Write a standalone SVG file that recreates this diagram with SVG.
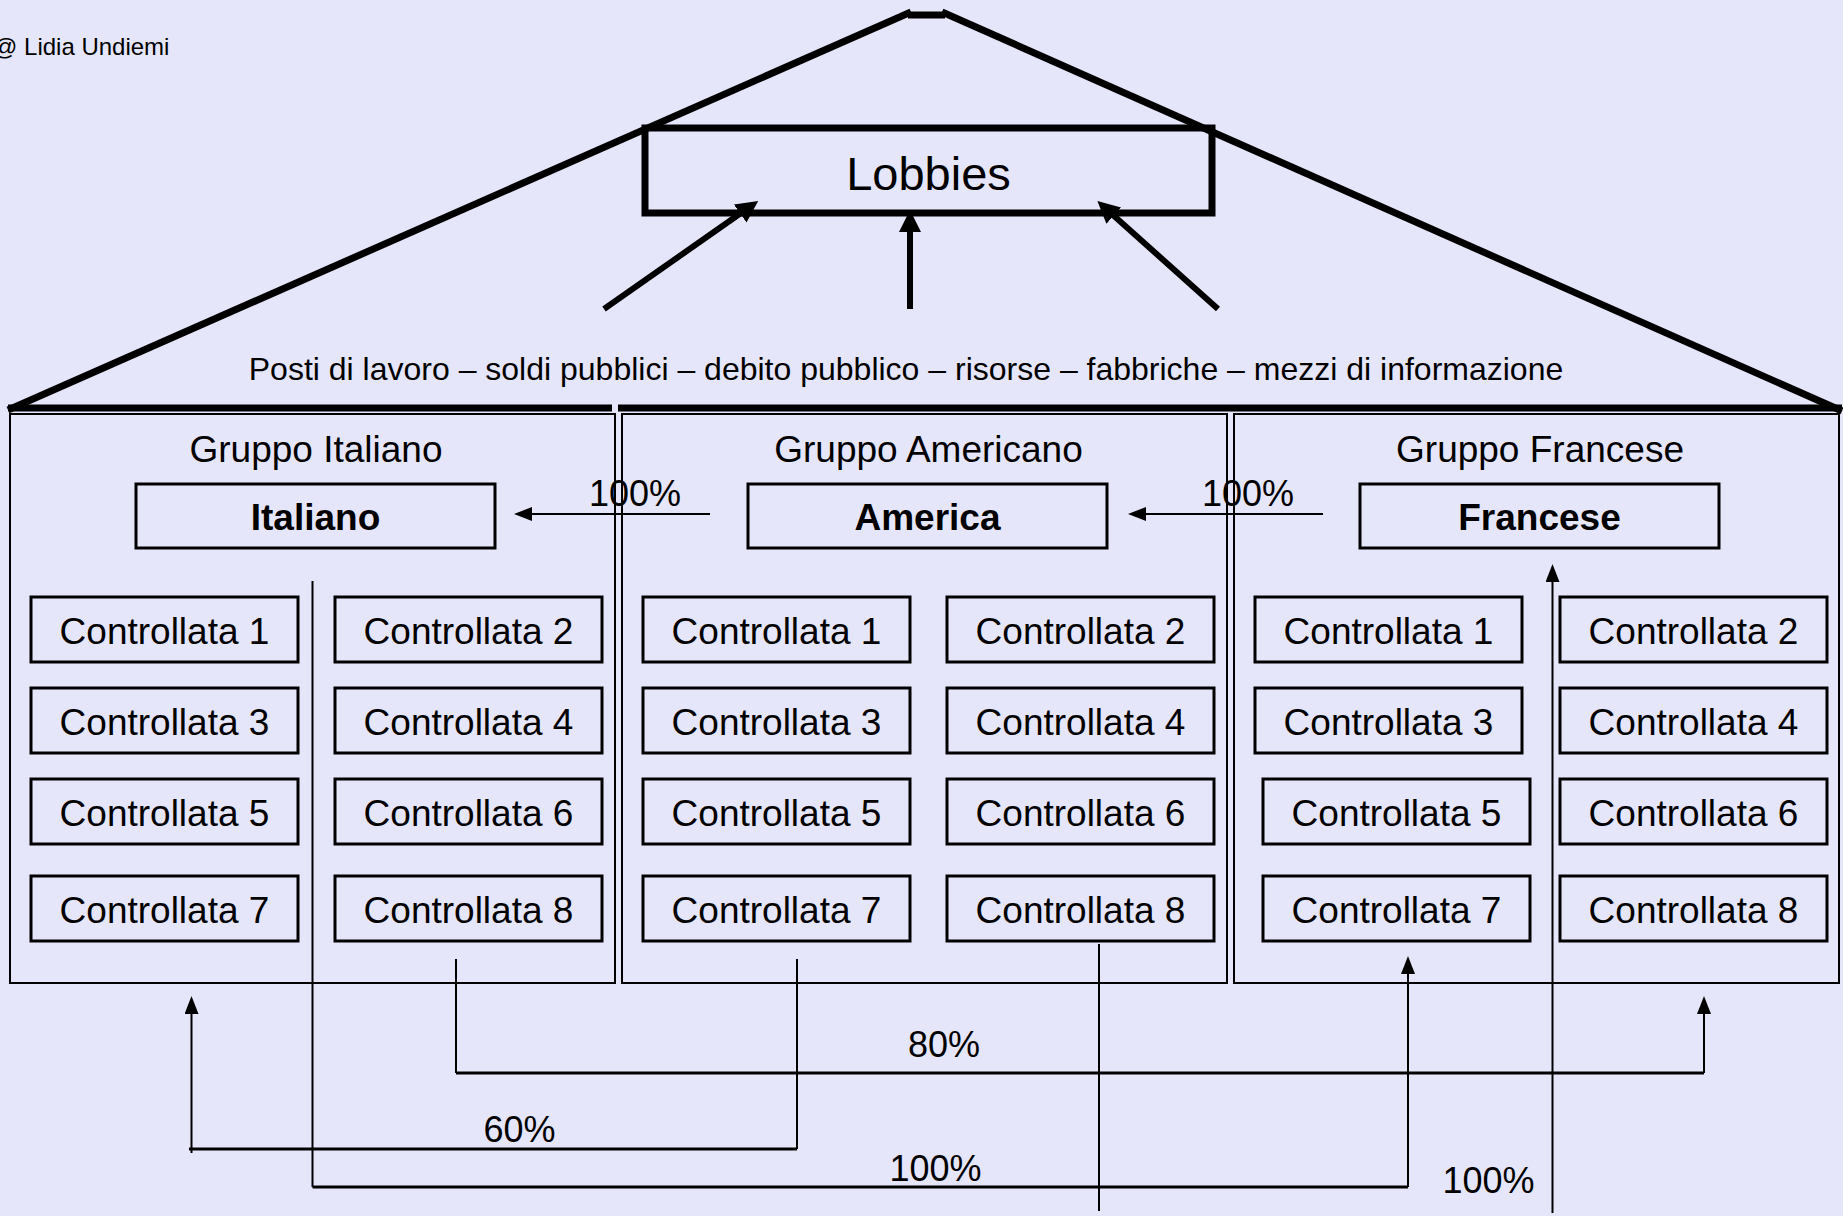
<svg xmlns="http://www.w3.org/2000/svg" width="1843" height="1216" viewBox="0 0 1843 1216">
<style>
text{font-family:"Liberation Sans",Arial,sans-serif;fill:#000}
.c{text-anchor:middle}
.box{fill:none;stroke:#000;stroke-width:3}
.panel{fill:none;stroke:#000;stroke-width:2}
.sub{font-size:37px}
.title{font-size:37px}
.head{font-size:37px;font-weight:bold}
.pct{font-size:36px}
.thin{fill:none;stroke:#000;stroke-width:2}
.hz{fill:none;stroke:#000;stroke-width:3}
.thick{fill:none;stroke:#000;stroke-width:6}
</style>
<defs>
<marker id="big" markerUnits="userSpaceOnUse" markerWidth="24" markerHeight="24" refX="1" refY="11" orient="auto"><path d="M0,0 L22,11 L0,22 z" fill="#000"/></marker>
<marker id="sm" markerUnits="userSpaceOnUse" markerWidth="20" markerHeight="16" refX="1" refY="7" orient="auto"><path d="M0,0 L18,7 L0,14 z" fill="#000"/></marker>
</defs>
<rect x="0" y="0" width="1843" height="1216" fill="#E6E6FA"/>
<text x="-7" y="55" font-size="24">@ Lidia Undiemi</text>
<g id="roof">
<line x1="8" y1="410" x2="911" y2="12" stroke="#000" stroke-width="7"/>
<line x1="908" y1="15" x2="945" y2="15" stroke="#000" stroke-width="7"/>
<line x1="942" y1="12" x2="1842" y2="411" stroke="#000" stroke-width="7"/>
<line x1="8" y1="408" x2="612" y2="408" stroke="#000" stroke-width="7"/>
<line x1="618" y1="408" x2="1842" y2="408" stroke="#000" stroke-width="7"/>
</g>
<g id="lobbies">
<rect x="645" y="128" width="567" height="85" fill="none" stroke="#000" stroke-width="7"/>
<text class="c" x="928.5" y="190" font-size="47">Lobbies</text>
</g>
<g id="resources">
<text class="c" x="906" y="380" font-size="32">Posti di lavoro – soldi pubblici – debito pubblico – risorse – fabbriche – mezzi di informazione</text>
</g>
<g id="gruppo-italiano">
<rect class="panel" x="10" y="414" width="605" height="569"/>
<text class="c title" x="316" y="462">Gruppo Italiano</text>
</g>
<g id="gruppo-americano">
<rect class="panel" x="622" y="414" width="605" height="569"/>
<text class="c title" x="928.5" y="462">Gruppo Americano</text>
</g>
<g id="gruppo-francese">
<rect class="panel" x="1234" y="414" width="605" height="569"/>
<text class="c title" x="1540" y="462">Gruppo Francese</text>
</g>
<g id="italiano"><rect class="box" x="136" y="484" width="359" height="64"/><text class="c head" x="315.5" y="530">Italiano</text></g>
<g id="america"><rect class="box" x="748" y="484" width="359" height="64"/><text class="c head" x="927.5" y="530">America</text></g>
<g id="francese"><rect class="box" x="1360" y="484" width="359" height="64"/><text class="c head" x="1539.5" y="530">Francese</text></g>

<g id="it-c1"><rect class="box" x="31" y="597" width="267" height="65"/><text class="c sub" x="164.5" y="644">Controllata 1</text></g>
<g id="it-c2"><rect class="box" x="335" y="597" width="267" height="65"/><text class="c sub" x="468.5" y="644">Controllata 2</text></g>
<g id="it-c3"><rect class="box" x="31" y="688" width="267" height="65"/><text class="c sub" x="164.5" y="735">Controllata 3</text></g>
<g id="it-c4"><rect class="box" x="335" y="688" width="267" height="65"/><text class="c sub" x="468.5" y="735">Controllata 4</text></g>
<g id="it-c5"><rect class="box" x="31" y="779" width="267" height="65"/><text class="c sub" x="164.5" y="826">Controllata 5</text></g>
<g id="it-c6"><rect class="box" x="335" y="779" width="267" height="65"/><text class="c sub" x="468.5" y="826">Controllata 6</text></g>
<g id="it-c7"><rect class="box" x="31" y="876" width="267" height="65"/><text class="c sub" x="164.5" y="923">Controllata 7</text></g>
<g id="it-c8"><rect class="box" x="335" y="876" width="267" height="65"/><text class="c sub" x="468.5" y="923">Controllata 8</text></g>

<g id="am-c1"><rect class="box" x="643" y="597" width="267" height="65"/><text class="c sub" x="776.5" y="644">Controllata 1</text></g>
<g id="am-c2"><rect class="box" x="947" y="597" width="267" height="65"/><text class="c sub" x="1080.5" y="644">Controllata 2</text></g>
<g id="am-c3"><rect class="box" x="643" y="688" width="267" height="65"/><text class="c sub" x="776.5" y="735">Controllata 3</text></g>
<g id="am-c4"><rect class="box" x="947" y="688" width="267" height="65"/><text class="c sub" x="1080.5" y="735">Controllata 4</text></g>
<g id="am-c5"><rect class="box" x="643" y="779" width="267" height="65"/><text class="c sub" x="776.5" y="826">Controllata 5</text></g>
<g id="am-c6"><rect class="box" x="947" y="779" width="267" height="65"/><text class="c sub" x="1080.5" y="826">Controllata 6</text></g>
<g id="am-c7"><rect class="box" x="643" y="876" width="267" height="65"/><text class="c sub" x="776.5" y="923">Controllata 7</text></g>
<g id="am-c8"><rect class="box" x="947" y="876" width="267" height="65"/><text class="c sub" x="1080.5" y="923">Controllata 8</text></g>

<g id="fr-c1"><rect class="box" x="1255" y="597" width="267" height="65"/><text class="c sub" x="1388.5" y="644">Controllata 1</text></g>
<g id="fr-c2"><rect class="box" x="1560" y="597" width="267" height="65"/><text class="c sub" x="1693.5" y="644">Controllata 2</text></g>
<g id="fr-c3"><rect class="box" x="1255" y="688" width="267" height="65"/><text class="c sub" x="1388.5" y="735">Controllata 3</text></g>
<g id="fr-c4"><rect class="box" x="1560" y="688" width="267" height="65"/><text class="c sub" x="1693.5" y="735">Controllata 4</text></g>
<g id="fr-c5"><rect class="box" x="1263" y="779" width="267" height="65"/><text class="c sub" x="1396.5" y="826">Controllata 5</text></g>
<g id="fr-c6"><rect class="box" x="1560" y="779" width="267" height="65"/><text class="c sub" x="1693.5" y="826">Controllata 6</text></g>
<g id="fr-c7"><rect class="box" x="1263" y="876" width="267" height="65"/><text class="c sub" x="1396.5" y="923">Controllata 7</text></g>
<g id="fr-c8"><rect class="box" x="1560" y="876" width="267" height="65"/><text class="c sub" x="1693.5" y="923">Controllata 8</text></g>

<g id="connectors">
<line class="thick" x1="604" y1="309" x2="741" y2="213" marker-end="url(#big)"/>
<line class="thick" x1="910" y1="309" x2="910" y2="231" marker-end="url(#big)"/>
<line class="thick" x1="1218" y1="309" x2="1113" y2="215" marker-end="url(#big)"/>

<line class="thin" x1="710" y1="514" x2="531" y2="514" marker-end="url(#sm)"/>
<text class="c pct" x="635" y="506">100%</text>
<line class="thin" x1="1323" y1="514" x2="1145" y2="514" marker-end="url(#sm)"/>
<text class="c pct" x="1248" y="506">100%</text>

<line class="thin" x1="312.5" y1="581" x2="312.5" y2="1187"/>
<line class="hz" x1="312.5" y1="1187" x2="1408" y2="1187"/>
<line class="thin" x1="1408" y1="1187" x2="1408" y2="973" marker-end="url(#sm)"/>
<text class="c pct" x="935.5" y="1181">100%</text>
<line class="thin" x1="456" y1="959" x2="456" y2="1073"/>
<line class="hz" x1="456" y1="1073" x2="1704" y2="1073"/>
<line class="thin" x1="1704" y1="1073" x2="1704" y2="1013" marker-end="url(#sm)"/>
<text class="c pct" x="944" y="1057">80%</text>
<line class="thin" x1="797" y1="959" x2="797" y2="1149"/>
<line class="hz" x1="797" y1="1149" x2="189" y2="1149"/>
<line class="thin" x1="191.5" y1="1153" x2="191.5" y2="1013" marker-end="url(#sm)"/>
<text class="c pct" x="519.5" y="1142">60%</text>
<line class="thin" x1="1099" y1="944" x2="1099" y2="1211"/>
<line class="thin" x1="1552.5" y1="1213" x2="1552.5" y2="581" marker-end="url(#sm)"/>
<text class="c pct" x="1488.5" y="1193">100%</text>
</g>
</svg>
